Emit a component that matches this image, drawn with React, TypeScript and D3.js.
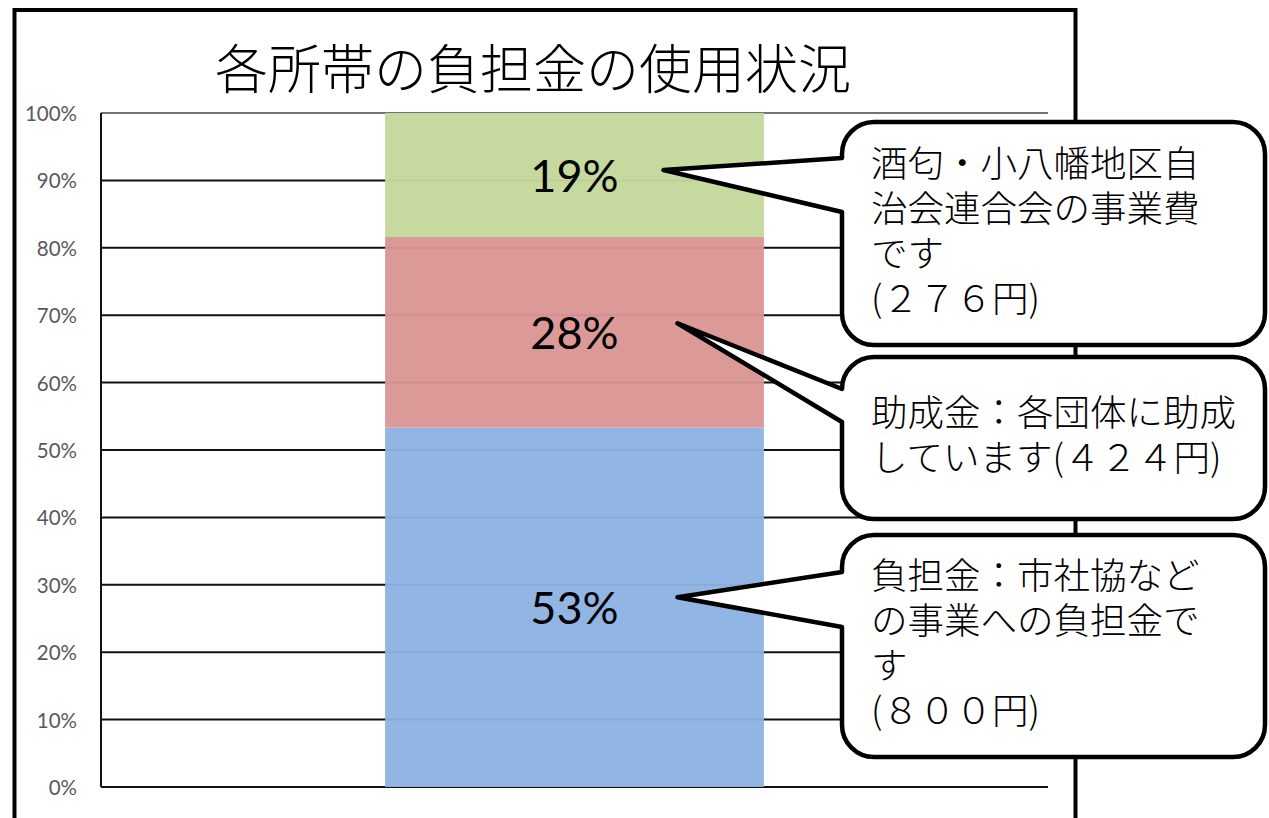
import React from "react";
import * as d3 from "d3";

const title = "各所帯の負担金の使用状況";
const categories = ["負担金", "助成金", "事業費"];
const amounts = [800, 424, 276];
const percentLabels = ["53%", "28%", "19%"];
const colors = ["#8DB3E2", "#DA9694", "#C4D79B"];
const yTicks = [0, 0.1, 0.2, 0.3, 0.4, 0.5, 0.6, 0.7, 0.8, 0.9, 1.0];
const calloutLines = [
  ["負担金：市社協など", "の事業への負担金で", "す", "(８００円)"],
  ["助成金：各団体に助成", "しています(４２４円)"],
  ["酒匂・小八幡地区自", "治会連合会の事業費", "です", "(２７６円)"],
];
// callout box layout (top, bottom) for each segment
const calloutBoxes = [
  { y0: 535, y1: 757, up: 572, low: 627, tipDx: 103, tipDy: -10 },
  { y0: 357, y1: 519, up: 383, low: 422, tipDx: 103, tipDy: -9 },
  { y0: 122, y1: 345, up: 158, low: 212, tipDx: 89, tipDy: -5 },
];

const W = 1269;
const H = 818;
const plot = { left: 101, right: 1048, top: 113, bottom: 787 };

export default function App() {
  const total = d3.sum(amounts);
  const y = d3.scaleLinear().domain([0, 1]).range([plot.bottom, plot.top]);
  const barX0 = plot.left + (plot.right - plot.left) * 0.3;
  const barW = (plot.right - plot.left) * 0.4;

  const stackData = [Object.fromEntries(categories.map((c, i) => [c, amounts[i] / total]))];
  const series = d3.stack<any>().keys(categories)(stackData as any);

  const boxX0 = 842;
  const boxX1 = 1265;
  const r = 32;
  const cjk = "'Noto Sans CJK JP', 'Noto Sans CJK SC', sans-serif";

  return (
    <svg
      width={W}
      height={H}
      style={{ position: "absolute", left: 0, top: 0, background: "#fff" }}
    >
      <rect x={0} y={0} width={W} height={H} fill="#fff" />
      {/* outer frame */}
      <rect x={14.5} y={10} width={1061} height={900} fill="none" stroke="#000" strokeWidth={4} />
      {/* title */}
      <text
        x={533}
        y={66}
        textAnchor="middle"
        dominantBaseline="central"
        fontFamily={cjk}
        fontWeight={300}
        fontSize={53}
        fill="#000"
      >
        {title}
      </text>
      {/* gridlines */}
      {yTicks.map((t) => (
        <line
          key={"g" + t}
          x1={plot.left}
          x2={plot.right}
          y1={y(t)}
          y2={y(t)}
          stroke={t === 1 ? "#444" : "#111"}
          strokeWidth={t === 1 ? 1.5 : 2}
        />
      ))}
      <line x1={plot.left} x2={plot.left} y1={plot.top} y2={plot.bottom} stroke="#111" strokeWidth={2} />
      {/* tick labels */}
      {yTicks.map((t) => (
        <text
          key={"t" + t}
          x={77}
          y={y(t)}
          textAnchor="end"
          dominantBaseline="central"
          fontFamily="Lato, 'Open Sans', sans-serif"
          fontSize={20.5}
          fill="#595959"
        >
          {d3.format(".0%")(t)}
        </text>
      ))}
      {/* bars */}
      {series.map((s, i) => (
        <rect
          key={"b" + i}
          x={barX0}
          width={barW}
          y={y(s[0][1])}
          height={y(s[0][0]) - y(s[0][1])}
          fill={colors[i]}
          fillOpacity={0.96}
        />
      ))}
      {/* data labels */}
      {series.map((s, i) => (
        <text
          key={"l" + i}
          x={barX0 + barW / 2}
          y={y((s[0][0] + s[0][1]) / 2)}
          textAnchor="middle"
          dominantBaseline="central"
          fontFamily="Lato, 'Open Sans', sans-serif"
          fontSize={45}
          fill="#000"
        >
          {percentLabels[i]}
        </text>
      ))}
      {/* callouts */}
      {series.map((s, i) => {
        const b = calloutBoxes[i];
        const tx = barX0 + barW / 2 + b.tipDx;
        const ty = y((s[0][0] + s[0][1]) / 2) + b.tipDy;
        const up = Math.max(b.up, b.y0 + r);
        const path = [
          `M${boxX0 + r},${b.y0}`,
          `H${boxX1 - r}`,
          `A${r},${r} 0 0 1 ${boxX1},${b.y0 + r}`,
          `V${b.y1 - r}`,
          `A${r},${r} 0 0 1 ${boxX1 - r},${b.y1}`,
          `H${boxX0 + r}`,
          `A${r},${r} 0 0 1 ${boxX0},${b.y1 - r}`,
          `V${b.low}`,
          `L${tx},${ty}`,
          `L${boxX0},${up}`,
          `V${b.y0 + r}`,
          `A${r},${r} 0 0 1 ${boxX0 + r},${b.y0}`,
          "Z",
        ].join(" ");
        const lines = calloutLines[i];
        const n = lines.length;
        const lh = 45;
        const cy = (b.y0 + b.y1) / 2;
        return (
          <g key={"c" + i}>
            <path d={path} fill="#fff" stroke="#000" strokeWidth={4.5} strokeLinejoin="round" />
            {lines.map((ln, j) => (
              <text
                key={j}
                x={871}
                y={cy + (j - (n - 1) / 2) * lh - 5}
                dominantBaseline="central"
                fontFamily={cjk}
                fontWeight={300}
                fontSize={36.5}
                fill="#000"
              >
                {ln}
              </text>
            ))}
          </g>
        );
      })}
    </svg>
  );
}
